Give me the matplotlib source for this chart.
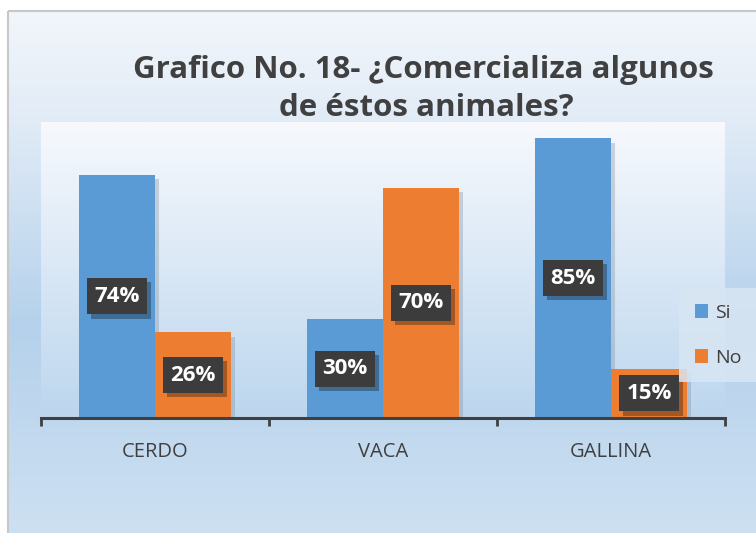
import matplotlib
matplotlib.use("Agg")
import matplotlib.pyplot as plt
import numpy as np
from matplotlib.colors import LinearSegmentedColormap
from matplotlib.patches import Rectangle
import matplotlib.patheffects as pe

categories = ["CERDO", "VACA", "GALLINA"]
series_names = ["Si", "No"]
si_values = [74, 30, 85]
no_values = [26, 70, 15]
title_lines = ["Grafico No. 18- ¿Comercializa algunos", "de éstos animales?"]

W, H = 756, 533
fig = plt.figure(figsize=(W / 100, H / 100), dpi=100)
fig.patch.set_facecolor("white")

# Outer chart frame with gradient
bg = fig.add_axes([0, 0, 1, 1], zorder=-10)
bg.set_xlim(0, W)
bg.set_ylim(H, 0)
bg.axis("off")
outer_cmap = LinearSegmentedColormap.from_list(
    "outer", [(0.0, "#f2f6fb"), (0.2, "#e2ecf7"), (0.6, "#b5d1eb"), (1.0, "#cde0f2")])
grad = np.linspace(0, 1, 256).reshape(-1, 1)
bg.imshow(grad, cmap=outer_cmap, aspect="auto", extent=(8, W, H, 11), zorder=0)
bg.add_patch(Rectangle((8, 11), W, H, fill=False, edgecolor="#c8c8c8", lw=1.5, zorder=1))

# Plot area
L, R, T, B = 41, 725, 122, 418
ax = fig.add_axes([L / W, 1 - B / H, (R - L) / W, (B - T) / H])
ax.set_xlim(-0.5, 2.5)
ax.set_ylim(0, 90)
inner_cmap = LinearSegmentedColormap.from_list("inner", [(0.0, "#f7f9fd"), (1.0, "#bcd6ee")])
ax.imshow(grad, cmap=inner_cmap, aspect="auto", extent=(-0.5, 2.5, 0, 90), zorder=0)

x = np.arange(len(categories))
bw = 1 / 3
shadow = [pe.SimplePatchShadow(offset=(3, -3), shadow_rgbFace="#7f8fa0", alpha=0.35), pe.Normal()]
b1 = ax.bar(x - bw / 2, si_values, bw, color="#5b9bd5", label=series_names[0], zorder=2)
b2 = ax.bar(x + bw / 2, no_values, bw, color="#ed7d31", label=series_names[1], zorder=2)
for p in list(b1) + list(b2):
    p.set_path_effects(shadow)

for xs, vals in ((x - bw / 2, si_values), (x + bw / 2, no_values)):
    for xi, v in zip(xs, vals):
        t = ax.text(xi, v / 2, f"{v}%", ha="center", va="center", color="white",
                    fontsize=16, fontweight="bold", family="Open Sans", zorder=5,
                    bbox=dict(boxstyle="square,pad=0.34", facecolor="#3c3c3c",
                              edgecolor="none"))
        t.get_bbox_patch().set_path_effects(
            [pe.SimplePatchShadow(offset=(3, -3), shadow_rgbFace="#000000", alpha=0.3), pe.Normal()])

for s in ["top", "right", "left"]:
    ax.spines[s].set_visible(False)
ax.spines["bottom"].set_color("#404040")
ax.spines["bottom"].set_linewidth(2.2)
ax.spines["bottom"].set_zorder(6)
ax.set_yticks([])
ax.set_xticks([-0.5, 0.5, 1.5, 2.5], minor=False)
ax.set_xticklabels([])
ax.tick_params(axis="x", which="major", length=6, width=2, color="#404040", direction="out")
ax.set_xticks(x, minor=True)
ax.set_xticklabels(categories, minor=True, fontsize=14.5, color="#404040", family="Open Sans")
ax.tick_params(axis="x", which="minor", length=0, pad=17)

# Title
fig.text(423 / W, 1 - 70 / H, title_lines[0], ha="center", va="center",
         fontsize=22.5, fontweight="bold", color="#404040", family="Open Sans")
fig.text(426 / W, 1 - 108 / H, title_lines[1], ha="center", va="center",
         fontsize=22.5, fontweight="bold", color="#404040", family="Open Sans")

leg = fig.legend(handles=[b1, b2], labels=series_names, loc="upper left",
                 bbox_to_anchor=(679 / W, 1 - 288 / H), bbox_transform=fig.transFigure,
                 prop={"family": "Open Sans", "size": 14},
                 frameon=True, fancybox=False, handlelength=0.7, handleheight=0.7,
                 handletextpad=0.35, labelspacing=1.4, borderpad=0.8, borderaxespad=0)
leg.get_frame().set_facecolor("#d8e6f3")
leg.get_frame().set_alpha(0.85)
leg.get_frame().set_edgecolor("none")
for txt in leg.get_texts():
    txt.set_color("#404040")
for h in leg.legend_handles:
    h.set_path_effects([])

fig.savefig("out.png", dpi=100)
